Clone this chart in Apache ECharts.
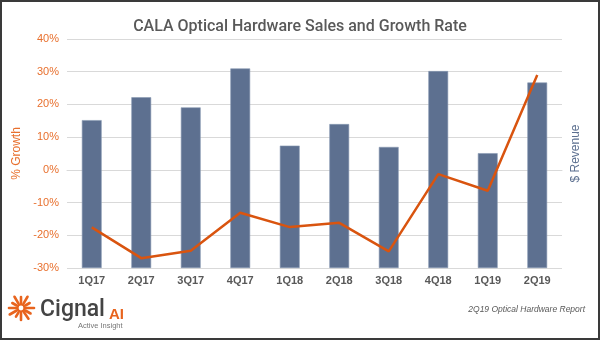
<!DOCTYPE html>
<html>
<head>
<meta charset="utf-8">
<script src="https://cdn.jsdelivr.net/npm/echarts@6/dist/echarts.min.js"></script>
<style>
  html, body { margin: 0; padding: 0; background: #fff; }
  #chart { width: 600px; height: 340px; box-sizing: border-box; border: 2px solid #3a3a3a; }
</style>
</head>
<body>
<div id="chart"></div>
<script>
// quarters on the x axis
const quarters = ['1Q17', '2Q17', '3Q17', '4Q17', '1Q18', '2Q18', '3Q18', '4Q18', '1Q19', '2Q19'];
// revenue, relative units on the hidden right axis
const revenue = [45.2, 52.2, 49.1, 61.0, 37.4, 44.0, 37.0, 60.2, 35.1, 56.7];
// year over year growth, %
const growth = [-17.6, -27.0, -24.7, -13.1, -17.5, -16.2, -24.9, -1.3, -6.4, 29.0];

const ORANGE = '#e8702e';
const LINE = '#d9540f';
const SLATE = '#5d7090';
const GRAY = '#595959';

// sunburst rays of the logo: [angle deg, length]
const rays = [[0, 13], [30, 11], [55, 13], [90, 12], [120, 10], [150, 13], [180, 12],
              [210, 10], [240, 13], [270, 11], [300, 13], [330, 10]];

function logoRays(cx, cy) {
    return rays.map(function (r) {
        const a = r[0] * Math.PI / 180;
        return {
            type: 'line',
            shape: {
                x1: cx + Math.cos(a) * 5, y1: cy + Math.sin(a) * 5,
                x2: cx + Math.cos(a) * r[1], y2: cy + Math.sin(a) * r[1]
            },
            style: { stroke: '#e8641e', lineWidth: 2.6, lineCap: 'round' }
        };
    });
}

const chart = echarts.init(document.getElementById('chart'));
chart.setOption({
    animation: false,
    title: {
        text: 'CALA Optical Hardware Sales and Growth Rate',
        left: 'center',
        top: 12,
        textStyle: {
            fontFamily: 'Roboto',
            fontWeight: 500,
            fontSize: 16,
            color: GRAY
        }
    },
    grid: { left: 65, right: 36, top: 37, bottom: 70 },
    xAxis: {
        type: 'category',
        data: quarters,
        axisTick: { show: false },
        axisLine: { lineStyle: { color: '#d9d9d9' } },
        axisLabel: {
            margin: 7,
            fontFamily: 'Liberation Sans',
            fontWeight: 'bold',
            fontSize: 11,
            color: GRAY
        }
    },
    yAxis: [
        {
            type: 'value',
            min: -30,
            max: 40,
            interval: 10,
            name: '% Growth',
            nameLocation: 'middle',
            nameRotate: 90,
            nameGap: 40,
            nameTextStyle: { fontFamily: 'Liberation Sans', fontSize: 12, color: ORANGE },
            axisLabel: {
                formatter: '{value}%',
                margin: 8,
                fontFamily: 'Liberation Sans',
                fontSize: 11,
                color: ORANGE
            },
            splitLine: { lineStyle: { color: '#d9d9d9' } }
        },
        {
            type: 'value',
            min: 0,
            max: 70,
            name: '$ Revenue',
            nameLocation: 'middle',
            nameRotate: 90,
            nameGap: 8,
            nameTextStyle: { fontFamily: 'Liberation Sans', fontSize: 12, color: SLATE },
            axisLabel: { show: false },
            axisLine: { show: false },
            axisTick: { show: false },
            splitLine: { show: false }
        }
    ],
    series: [
        {
            name: '$ Revenue',
            type: 'bar',
            yAxisIndex: 1,
            data: revenue,
            barWidth: '40%',
            itemStyle: { color: SLATE, borderColor: '#8898b2', borderWidth: 0.6 }
        },
        {
            name: '% Growth',
            type: 'line',
            yAxisIndex: 0,
            data: growth,
            showSymbol: false,
            lineStyle: { color: LINE, width: 2.5 },
            z: 5
        }
    ],
    graphic: [
        {
            type: 'group',
            children: logoRays(19, 306).concat([
                {
                    type: 'circle',
                    shape: { cx: 19, cy: 306, r: 3.5 },
                    style: { fill: 'none', stroke: '#e8641e', lineWidth: 2.2 }
                }
            ])
        },
        {
            type: 'text',
            left: 38,
            top: 297,
            style: {
                text: 'Cignal',
                fontFamily: 'Roboto',
                fontWeight: 500,
                fontSize: 23,
                fill: '#444'
            }
        },
        {
            type: 'text',
            left: 107,
            top: 305,
            style: {
                text: 'AI',
                fontFamily: 'Liberation Sans',
                fontWeight: 'bold',
                fontSize: 15,
                fill: '#e8641e'
            }
        },
        {
            type: 'text',
            left: 76,
            top: 320,
            style: {
                text: 'Active Insight',
                fontFamily: 'Liberation Sans',
                fontSize: 7.5,
                fill: '#777'
            }
        },
        {
            type: 'text',
            right: 13,
            top: 303,
            style: {
                text: '2Q19 Optical Hardware Report',
                fontFamily: 'Liberation Sans',
                fontStyle: 'italic',
                fontSize: 8.5,
                fill: GRAY
            }
        }
    ]
});
</script>
</body>
</html>
